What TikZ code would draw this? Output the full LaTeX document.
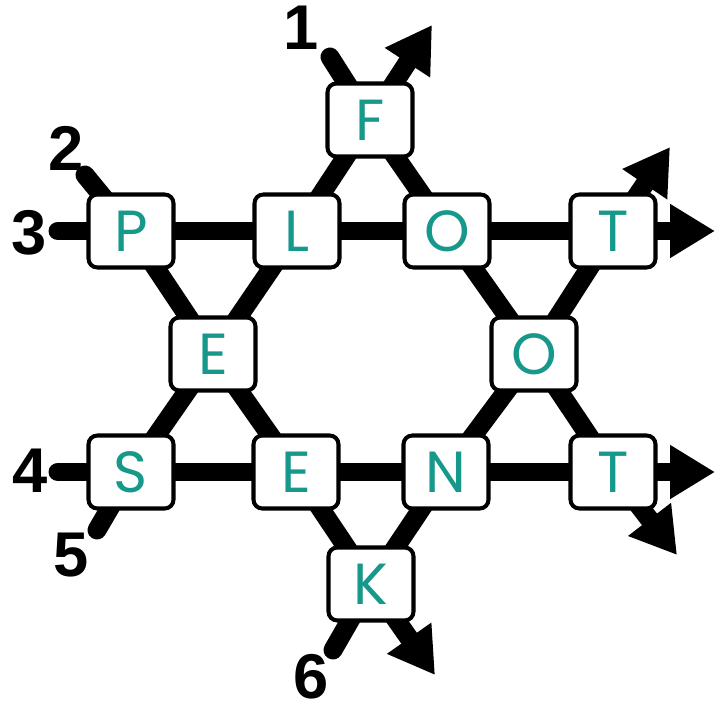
\documentclass[tikz,border=0pt]{standalone}
\usepackage{fontspec}
\setmainfont{Liberation Sans}
\newfontfamily\tilefont{Poppins}
\usepackage{xcolor}
\usetikzlibrary{arrows.meta, backgrounds}
\definecolor{tileteal}{RGB}{22,152,138}

\begin{document}
\begin{tikzpicture}[x=0.02cm, y=-0.02cm,
  tile/.style={draw, line width=2.3pt, rounded corners=5pt, fill=white,
    minimum width=1.7cm, minimum height=1.46cm, inner sep=0pt,
    text=tileteal, font=\tilefont\fontsize{33}{33}\selectfont},
  num/.style={font=\bfseries\fontsize{36}{36}\selectfont},
  track/.style={line width=10.8pt, line cap=round, line join=round}]
        \tikzset{>={Triangle[length=0.9cm, width=1.02cm]}}

        \useasboundingbox (0,0) rectangle (727,710);

        % Letter tiles
        \foreach \name/\letter/\px/\py in {f/F/370/120, p/P/131/231, l/L/297/231,
            o1/O/447/231, t1/T/613/231, e1/E/213/354, o2/O/534/354, s/S/131/472,
            e2/E/296/472, n/N/446/472, t2/T/613/472, k/K/371/584} {
          \node[tile] (\name) at (\px,\py) {\letter};
        }

        % Free ends of the tracks
        \coordinate (a1) at (330,57);  \coordinate (b1) at (677,555);
        \coordinate (a2) at (85,175);  \coordinate (b2) at (435,675);
        \coordinate (a3) at (58,231);  \coordinate (b3) at (715,231);
        \coordinate (a4) at (58,472);  \coordinate (b4) at (715,472);
        \coordinate (a5) at (97,530);  \coordinate (b5) at (432,25);
        \coordinate (a6) at (333,650); \coordinate (b6) at (670,147);

        % Tracks behind the tiles
        \begin{scope}[on background layer]
          \draw[track,->] (a1) -- (f.center) -- (o1.center) -- (o2.center) -- (t2.center) -- (b1);
          \draw[track,->] (a2) -- (p.center) -- (e1.center) -- (e2.center) -- (k.center) -- (b2);
          \draw[track,->] (a3) -- (p.center) -- (l.center) -- (o1.center) -- (t1.center) -- (b3);
          \draw[track,->] (a4) -- (s.center) -- (e2.center) -- (n.center) -- (t2.center) -- (b4);
          \draw[track,->] (a5) -- (s.center) -- (e1.center) -- (l.center) -- (f.center) -- (b5);
          \draw[track,->] (a6) -- (k.center) -- (n.center) -- (o2.center) -- (t1.center) -- (b6);
        \end{scope}

        % Track numbers
        \node[num] (n1) at (301,28) {1};
        \node[num] (n2) at (66,148) {2};
        \node[num] (n3) at (29,233) {3};
        \node[num] (n4) at (30,471) {4};
        \node[num] (n5) at (71,555) {5};
        \node[num] (n6) at (311,677) {6};
\end{tikzpicture}
\end{document}
